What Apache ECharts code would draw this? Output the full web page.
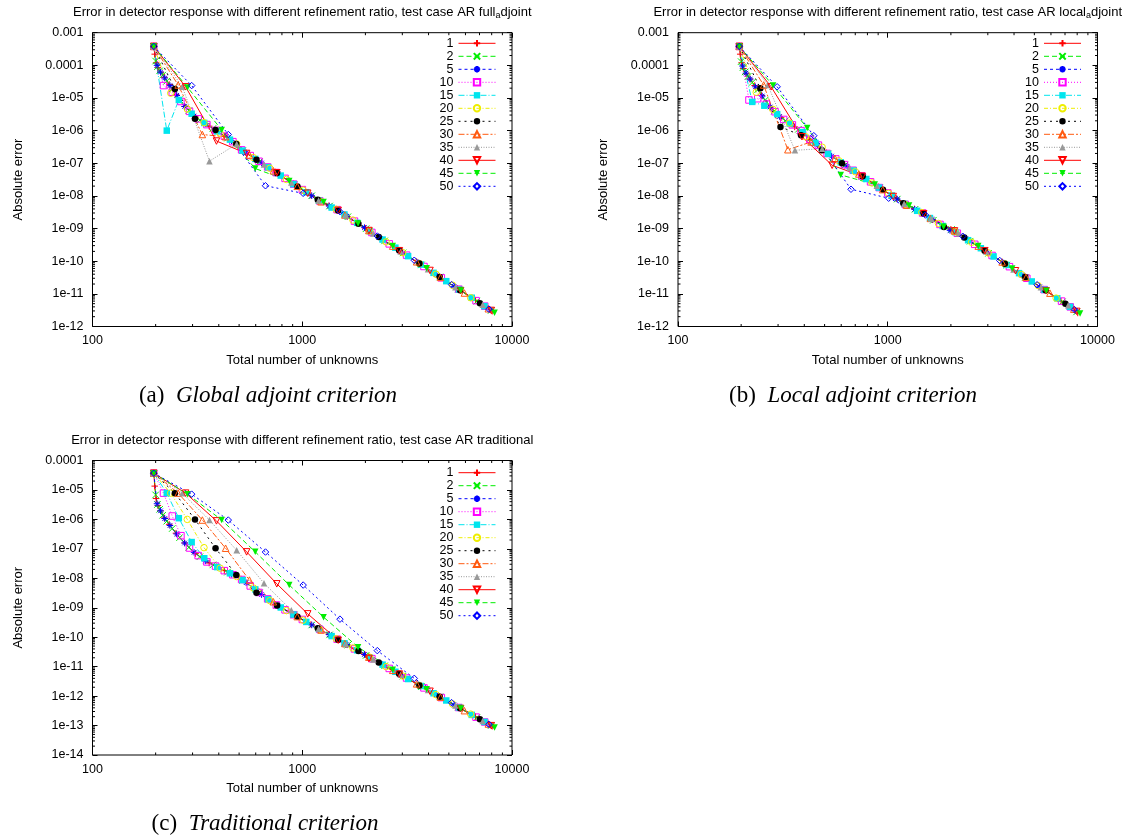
<!DOCTYPE html>
<html>
<head>
<meta charset="utf-8">
<title>Error in detector response with different refinement ratio</title>
<script src="https://cdn.jsdelivr.net/npm/echarts@6.0.0/dist/echarts.min.js"></script>
<style>
  html, body { margin: 0; padding: 0; background: #ffffff; }
  #chart { width: 1131px; height: 839px; }
</style>
</head>
<body>
<div id="chart"></div>
<script>
// Refinement ratios (percent), one curve each in every panel
const ratios = ['1', '2', '5', '10', '15', '20', '25', '30', '35', '40', '45', '50'];

// Tick labels
const xTickLabels = ['100', '1000', '10000'];
const yTickLabels = ['1e-14', '1e-13', '1e-12', '1e-11', '1e-10', '1e-09', '1e-08',
                     '1e-07', '1e-06', '1e-05', '0.0001', '0.001'];

// ---------- (a) full adjoint criterion: [total unknowns, absolute error] ----------
const fullAdj_1 = [[196,3.8e-4],[198,2.2e-4],[201,1.2e-4],[205,8.5e-5],[211,6.2e-5],[220,4.3e-5],[232,2.6e-5],[250,1.3e-5],[275,5.5e-6],[310,2.6e-6],[360,1.37e-6],[425,6.8e-7],[510,2.6e-7],[615,1.2e-7],[745,5.4e-8],[905,2.4e-8],[1100,1.05e-8],[1340,5.0e-9],[1640,2.35e-9],[2000,1.02e-9],[2450,4.35e-10],[3000,1.86e-10],[3670,8.0e-11],[4500,3.4e-11],[5500,1.46e-11],[6700,6.4e-12],[8050,2.95e-12]];
const fullAdj_2 = [[196,3.8e-4],[200,1.35e-4],[204,9.1e-5],[209,6.8e-5],[216,5.0e-5],[226,3.3e-5],[240,1.9e-5],[260,8.9e-6],[288,4.1e-6],[325,2.1e-6],[375,1.16e-6],[440,5.9e-7],[520,2.44e-7],[625,1.12e-7],[755,5.1e-8],[915,2.27e-8],[1110,1.01e-8],[1350,4.9e-9],[1650,2.3e-9],[2015,9.9e-10],[2470,4.2e-10],[3025,1.8e-10],[3700,7.7e-11],[4530,3.3e-11],[5550,1.4e-11],[6800,6.0e-12],[7950,3.1e-12]];
const fullAdj_5 = [[196,3.8e-4],[203,1.0e-4],[211,6.2e-5],[221,4.1e-5],[234,2.4e-5],[252,1.2e-5],[275,5.5e-6],[305,2.8e-6],[345,1.64e-6],[395,9.3e-7],[460,4.9e-7],[540,2.1e-7],[640,1.02e-7],[765,4.8e-8],[920,2.2e-8],[1110,1.01e-8],[1345,4.9e-9],[1630,2.4e-9],[1980,1.07e-9],[2410,4.7e-10],[2930,2.06e-10],[3570,9.0e-11],[4350,3.9e-11],[5300,1.7e-11],[6450,7.5e-12],[7850,3.3e-12]];
const fullAdj_10 = [[196,3.8e-4],[218,2.4e-5],[240,1.5e-5],[264,7.8e-6],[290,3.9e-6],[319,2.3e-6],[351,1.53e-6],[386,1.02e-6],[425,6.8e-7],[467,4.6e-7],[514,2.57e-7],[565,1.72e-7],[622,1.15e-7],[684,7.7e-8],[752,5.2e-8],[828,3.45e-8],[910,2.3e-8],[1001,1.56e-8],[1212,7.0e-9],[1466,3.8e-9],[1774,1.69e-9],[2147,7.6e-10],[2598,3.4e-10],[3144,1.53e-10],[3804,6.9e-11],[4603,3.1e-11],[5569,1.39e-11],[6739,6.2e-12],[7413,4.2e-12]];
const fullAdj_15 = [[196,3.8e-4],[226,1.0e-6],[258,8.7e-6],[297,3.3e-6],[341,1.72e-6],[393,9.5e-7],[452,5.3e-7],[519,2.45e-7],[597,1.36e-7],[687,7.6e-8],[790,4.2e-8],[908,2.3e-8],[1045,1.3e-8],[1201,7.2e-9],[1381,4.4e-9],[1589,2.7e-9],[1827,1.5e-9],[2101,8.3e-10],[2416,4.6e-10],[2779,2.6e-10],[3196,1.43e-10],[3675,7.9e-11],[4226,4.4e-11],[4860,2.45e-11],[5589,1.36e-11],[6428,7.6e-12],[7392,4.2e-12]];
const fullAdj_20 = [[196,3.8e-4],[236,1.4e-5],[283,4.6e-6],[340,1.75e-6],[406,8.3e-7],[487,3.9e-7],[584,1.5e-7],[701,7.0e-8],[841,3.2e-8],[1009,1.5e-8],[1211,7.0e-9],[1453,3.9e-9],[1744,1.82e-9],[2093,8.5e-10],[2511,3.9e-10],[3013,1.83e-10],[3616,8.5e-11],[4339,4.0e-11],[5207,1.84e-11],[6350,7.6e-12]];
const fullAdj_25 = [[196,3.8e-4],[247,1.9e-5],[308,2.3e-6],[386,1.05e-6],[485,3.9e-7],[605,1.29e-7],[759,5.0e-8],[949,1.95e-8],[1186,7.6e-9],[1482,3.6e-9],[1853,1.41e-9],[2316,5.5e-10],[2895,2.16e-10],[3619,8.5e-11],[4524,3.3e-11],[5655,1.3e-11],[7030,5.2e-12]];
const fullAdj_30 = [[196,3.8e-4],[256,2.5e-5],[334,7.6e-7],[431,6.5e-7],[560,1.79e-7],[728,5.9e-8],[946,1.97e-8],[1229,6.6e-9],[1597,2.6e-9],[2076,8.7e-10],[2699,2.9e-10],[3509,9.6e-11],[4562,3.2e-11],[5930,1.06e-11],[7709,3.5e-12]];
const fullAdj_35 = [[196,3.8e-4],[268,2.2e-5],[361,1.16e-7],[487,3.9e-7],[657,9.1e-8],[887,2.6e-8],[1197,7.3e-9],[1616,2.5e-9],[2182,7.1e-10],[2946,2.0e-10],[3977,5.7e-11],[5369,1.6e-11],[7248,4.6e-12]];
const fullAdj_40 = [[196,3.8e-4],[278,2.2e-5],[390,4.8e-7],[543,2.0e-7],[756,5.1e-8],[1062,1.21e-8],[1484,3.6e-9],[2080,8.7e-10],[2904,2.1e-10],[4065,5.2e-11],[5691,1.26e-11],[7967,3.1e-12]];
const fullAdj_45 = [[196,3.8e-4],[284,2.1e-5],[413,1.05e-6],[597,6.9e-8],[867,2.85e-8],[1264,6.5e-9],[1845,1.44e-9],[2700,2.9e-10],[3920,6.1e-11],[5700,1.26e-11],[8260,2.65e-12]];
const fullAdj_50 = [[196,3.8e-4],[297,2.4e-5],[444,7.6e-7],[668,2.05e-8],[1010,1.2e-8],[1513,3.3e-9],[2280,5.9e-10],[3420,1.07e-10],[5150,1.92e-11],[7760,3.4e-12]];

// ---------- (b) local adjoint criterion ----------
const localAdj_1 = [[196,3.8e-4],[198,2.2e-4],[201,1.2e-4],[205,8.0e-5],[211,5.5e-5],[220,3.8e-5],[232,2.4e-5],[250,1.2e-5],[275,5.2e-6],[310,2.5e-6],[360,1.3e-6],[425,5.4e-7],[510,2.1e-7],[615,9.5e-8],[745,4.3e-8],[905,1.9e-8],[1100,8.3e-9],[1340,4.0e-9],[1640,1.86e-9],[2000,9.5e-10],[2450,4.3e-10],[3000,1.8e-10],[3670,8.0e-11],[4500,3.4e-11],[5500,1.4e-11],[6700,6.0e-12],[8050,2.6e-12]];
const localAdj_2 = [[196,3.8e-4],[200,1.3e-4],[204,8.5e-5],[209,6.3e-5],[216,4.6e-5],[226,3.0e-5],[240,1.8e-5],[260,8.5e-6],[288,4.0e-6],[325,2.0e-6],[375,1.1e-6],[440,4.7e-7],[520,1.93e-7],[625,8.8e-8],[755,4.0e-8],[915,1.8e-8],[1110,8.0e-9],[1350,3.9e-9],[1650,1.8e-9],[2015,9.4e-10],[2470,4.1e-10],[3025,1.75e-10],[3700,7.6e-11],[4530,3.2e-11],[5550,1.35e-11],[6800,5.7e-12],[7950,2.8e-12]];
const localAdj_5 = [[196,3.8e-4],[203,9.5e-5],[211,5.8e-5],[221,3.8e-5],[234,2.2e-5],[252,1.15e-5],[275,5.3e-6],[305,2.7e-6],[345,1.6e-6],[395,9.0e-7],[460,3.9e-7],[540,1.66e-7],[640,8.1e-8],[765,3.8e-8],[920,1.74e-8],[1110,8.0e-9],[1345,3.9e-9],[1630,1.9e-9],[1980,8.8e-10],[2410,4.6e-10],[2930,2.0e-10],[3570,8.8e-11],[4350,3.8e-11],[5300,1.65e-11],[6450,7.2e-12],[7850,3.1e-12]];
const localAdj_10 = [[196,3.8e-4],[218,8.7e-6],[240,9.5e-6],[264,6.5e-6],[290,3.8e-6],[319,2.2e-6],[351,1.5e-6],[386,1.0e-6],[425,5.4e-7],[467,3.6e-7],[514,2.0e-7],[565,1.36e-7],[622,9.1e-8],[684,6.1e-8],[752,4.1e-8],[828,2.7e-8],[910,1.8e-8],[1001,1.23e-8],[1212,5.5e-9],[1466,3.0e-9],[1774,1.34e-9],[2147,7.2e-10],[2598,3.3e-10],[3144,1.5e-10],[3804,6.8e-11],[4603,3.0e-11],[5569,1.35e-11],[6739,6.0e-12],[7413,4.0e-12]];
const localAdj_15 = [[196,3.8e-4],[226,7.6e-6],[258,5.8e-6],[297,3.2e-6],[341,1.65e-6],[393,9.0e-7],[452,4.2e-7],[519,1.94e-7],[597,1.07e-7],[687,6.0e-8],[790,3.3e-8],[908,1.8e-8],[1045,1.03e-8],[1201,5.7e-9],[1381,3.5e-9],[1589,2.1e-9],[1827,1.2e-9],[2101,7.8e-10],[2416,4.4e-10],[2779,2.5e-10],[3196,1.4e-10],[3675,7.7e-11],[4226,4.3e-11],[4860,2.4e-11],[5589,1.33e-11],[6428,7.3e-12],[7392,4.0e-12]];
const localAdj_20 = [[196,3.8e-4],[236,1.5e-5],[283,4.5e-6],[340,1.7e-6],[406,6.5e-7],[487,3.1e-7],[584,1.2e-7],[701,5.5e-8],[841,2.5e-8],[1009,1.2e-8],[1211,5.5e-9],[1453,3.1e-9],[1744,1.44e-9],[2093,8.0e-10],[2511,3.8e-10],[3013,1.8e-10],[3616,8.3e-11],[4339,3.9e-11],[5207,1.8e-11],[6350,7.4e-12]];
const localAdj_25 = [[196,3.8e-4],[247,2.0e-5],[308,1.3e-6],[386,7.2e-7],[485,2.5e-7],[605,1.0e-7],[759,4.0e-8],[949,1.55e-8],[1186,6.0e-9],[1482,2.9e-9],[1853,1.12e-9],[2316,5.3e-10],[2895,2.1e-10],[3619,8.4e-11],[4524,3.3e-11],[5655,1.28e-11],[7030,5.0e-12]];
const localAdj_30 = [[196,3.8e-4],[256,2.5e-5],[334,2.6e-7],[431,4.5e-7],[560,1.42e-7],[728,4.7e-8],[946,1.56e-8],[1229,5.2e-9],[1597,2.05e-9],[2076,8.5e-10],[2699,2.9e-10],[3509,9.5e-11],[4562,3.2e-11],[5930,1.05e-11],[7709,3.4e-12]];
const localAdj_35 = [[196,3.8e-4],[268,2.5e-5],[361,2.5e-7],[487,2.8e-7],[657,7.2e-8],[887,2.05e-8],[1197,5.8e-9],[1616,2.0e-9],[2182,7.0e-10],[2946,2.0e-10],[3977,5.6e-11],[5369,1.58e-11],[7248,4.5e-12]];
const localAdj_40 = [[196,3.8e-4],[278,2.2e-5],[390,6.5e-7],[543,8.7e-8],[756,4.0e-8],[1062,9.6e-9],[1484,2.85e-9],[2080,8.5e-10],[2904,2.1e-10],[4065,5.1e-11],[5691,1.24e-11],[7967,2.9e-12]];
const localAdj_45 = [[196,3.8e-4],[284,2.4e-5],[413,1.2e-6],[597,4.4e-8],[867,2.25e-8],[1264,5.1e-9],[1845,1.14e-9],[2700,2.9e-10],[3920,6.0e-11],[5700,1.25e-11],[8260,2.5e-12]];
const localAdj_50 = [[196,3.8e-4],[297,2.2e-5],[444,7.0e-7],[668,1.6e-8],[1010,8.5e-9],[1513,2.6e-9],[2280,5.8e-10],[3420,1.05e-10],[5150,1.9e-11],[7760,3.3e-12]];

// ---------- (c) traditional criterion ----------
const trad_1 = [[196,3.7e-5],[198,1.35e-5],[201,5.1e-6],[205,2.95e-6],[211,1.95e-6],[220,1.12e-6],[232,6.8e-7],[250,3.4e-7],[275,1.58e-7],[310,6.9e-8],[360,3.3e-8],[425,1.83e-8],[510,9.5e-9],[615,3.5e-9],[745,1.29e-9],[905,5.9e-10],[1100,2.7e-10],[1340,1.24e-10],[1640,5.5e-11],[2000,2.5e-11],[2450,1.1e-11],[3000,4.9e-12],[3670,2.2e-12],[4500,9.7e-13],[5500,4.3e-13],[6700,2.0e-13],[8050,9.5e-14]];
const trad_2 = [[196,3.7e-5],[200,6.8e-6],[204,3.2e-6],[209,2.2e-6],[216,1.38e-6],[226,8.7e-7],[240,4.9e-7],[260,2.4e-7],[288,1.12e-7],[325,5.4e-8],[375,2.85e-8],[440,1.62e-8],[520,8.5e-9],[625,3.2e-9],[755,1.23e-9],[915,5.7e-10],[1110,2.6e-10],[1350,1.2e-10],[1650,5.4e-11],[2015,2.4e-11],[2470,1.07e-11],[3025,4.75e-12],[3700,2.1e-12],[4530,9.5e-13],[5550,4.2e-13],[6800,1.86e-13],[7950,1.0e-13]];
const trad_5 = [[196,3.7e-5],[203,3.4e-6],[211,1.95e-6],[221,1.07e-6],[234,6.2e-7],[252,3.2e-7],[275,1.58e-7],[305,7.6e-8],[345,3.9e-8],[395,2.4e-8],[460,1.38e-8],[540,7.1e-9],[640,2.8e-9],[765,1.15e-9],[920,5.6e-10],[1110,2.6e-10],[1345,1.22e-10],[1630,5.6e-11],[1980,2.6e-11],[2410,1.18e-11],[2930,5.4e-12],[3570,2.45e-12],[4350,1.11e-12],[5300,5.0e-13],[6450,2.3e-13],[7850,1.05e-13]];
const trad_10 = [[196,3.7e-5],[218,7.8e-6],[240,1.3e-6],[264,2.8e-7],[290,1.07e-7],[319,5.9e-8],[351,3.6e-8],[386,2.6e-8],[425,1.82e-8],[467,1.32e-8],[514,9.1e-9],[565,5.5e-9],[622,3.3e-9],[684,2.0e-9],[752,1.24e-9],[828,8.5e-10],[910,5.8e-10],[1001,4.0e-10],[1212,1.85e-10],[1466,8.6e-11],[1774,4.0e-11],[2147,1.87e-11],[2598,8.7e-12],[3144,4.1e-12],[3804,1.9e-12],[4603,8.9e-13],[5569,4.1e-13],[6739,1.93e-13],[7413,1.32e-13]];
const trad_15 = [[196,3.7e-5],[226,7.8e-6],[258,1.1e-6],[297,1.7e-7],[341,4.8e-8],[393,2.4e-8],[452,1.48e-8],[519,8.7e-9],[597,4.2e-9],[687,1.95e-9],[790,1.02e-9],[908,5.9e-10],[1045,3.3e-10],[1201,1.9e-10],[1381,1.09e-10],[1589,6.2e-11],[1827,3.6e-11],[2101,2.0e-11],[2416,1.17e-11],[2779,6.7e-12],[3196,3.8e-12],[3675,2.2e-12],[4226,1.25e-12],[4860,7.1e-13],[5589,4.1e-13],[6428,2.3e-13],[7392,1.33e-13]];
const trad_20 = [[196,3.7e-5],[236,7.8e-6],[283,1.0e-6],[340,1.1e-7],[406,2.2e-8],[487,1.15e-8],[584,4.7e-9],[701,1.74e-9],[841,8.0e-10],[1009,3.8e-10],[1211,1.85e-10],[1453,8.9e-11],[1744,4.3e-11],[2093,2.1e-11],[2511,1.0e-11],[3013,4.8e-12],[3616,2.3e-12],[4339,1.12e-12],[5207,5.4e-13],[6350,2.45e-13]];
const trad_25 = [[196,3.7e-5],[247,7.8e-6],[308,1.0e-6],[386,1.05e-7],[485,1.3e-8],[605,3.2e-9],[759,1.2e-9],[949,4.9e-10],[1186,2.0e-10],[1482,8.2e-11],[1853,3.4e-11],[2316,1.38e-11],[2895,5.7e-12],[3619,2.3e-12],[4524,9.5e-13],[5655,3.9e-13],[7030,1.63e-13]];
const trad_30 = [[196,3.7e-5],[256,7.8e-6],[334,9.5e-7],[431,1.05e-7],[560,8.7e-9],[728,1.6e-9],[946,5.0e-10],[1229,1.75e-10],[1597,6.1e-11],[2076,2.1e-11],[2699,7.5e-12],[3509,2.6e-12],[4562,9.2e-13],[5930,3.2e-13],[7709,1.13e-13]];
const trad_35 = [[196,3.7e-5],[268,7.8e-6],[361,9.5e-7],[487,8.9e-8],[657,6.8e-9],[887,8.3e-10],[1197,1.94e-10],[1616,5.8e-11],[2182,1.75e-11],[2946,5.3e-12],[3977,1.6e-12],[5369,4.8e-13],[7248,1.44e-13]];
const trad_40 = [[196,3.7e-5],[278,7.8e-6],[390,8.9e-7],[543,7.9e-8],[756,6.5e-9],[1062,6.2e-10],[1484,7.9e-11],[2080,1.9e-11],[2904,5.6e-12],[4065,1.46e-12],[5691,3.8e-13],[7967,9.9e-14]];
const trad_45 = [[196,3.7e-5],[284,7.2e-6],[413,9.5e-7],[597,7.9e-8],[867,5.9e-9],[1264,4.8e-10],[1845,4.6e-11],[2700,7.9e-12],[3920,1.7e-12],[5700,3.8e-13],[8260,8.6e-14]];
const trad_50 = [[196,3.7e-5],[297,7.2e-6],[444,9.5e-7],[668,7.8e-8],[1010,5.9e-9],[1513,4.1e-10],[2280,3.5e-11],[3420,4.0e-12],[5150,6.0e-13],[7760,1.1e-13]];

const fullAdjSeries  = [fullAdj_1, fullAdj_2, fullAdj_5, fullAdj_10, fullAdj_15, fullAdj_20, fullAdj_25, fullAdj_30, fullAdj_35, fullAdj_40, fullAdj_45, fullAdj_50];
const localAdjSeries = [localAdj_1, localAdj_2, localAdj_5, localAdj_10, localAdj_15, localAdj_20, localAdj_25, localAdj_30, localAdj_35, localAdj_40, localAdj_45, localAdj_50];
const tradSeries     = [trad_1, trad_2, trad_5, trad_10, trad_15, trad_20, trad_25, trad_30, trad_35, trad_40, trad_45, trad_50];

// ---------- styling ----------
const SANS  = "'Liberation Sans', Arial, Helvetica, sans-serif";
const SERIF = "'Liberation Serif', 'Times New Roman', serif";

const P_PLUS  = 'path://M5,0V10M0,5H10';
const P_CROSS = 'path://M0,0L10,10M10,0L0,10';
const P_STAR  = 'path://M5,0V10M0,5H10M1.5,1.5L8.5,8.5M8.5,1.5L1.5,8.5';
const P_BOX   = 'path://M0,0H10V10H0Z';
const P_TRI   = 'path://M5,0L10,9L0,9Z';
const P_ITRI  = 'path://M0,0H10L5,9Z';
const P_DIAM  = 'path://M5,0L10,5L5,10L0,5Z';

// gnuplot-like line types: colour, dash pattern, point type, hollow or filled point
const looks = [
  { c: '#ff0000', dash: 'solid',          sym: P_PLUS,   open: true  },
  { c: '#00ee00', dash: [5, 3],           sym: P_CROSS,  open: true  },
  { c: '#0000ff', dash: [3, 3],           sym: P_STAR,   open: true  },
  { c: '#ff00ff', dash: [1, 2],           sym: P_BOX,    open: true  },
  { c: '#00e5ee', dash: [6, 2, 1, 2],     sym: 'rect',   open: false },
  { c: '#eeee00', dash: [4, 2, 1, 2],     sym: 'circle', open: true  },
  { c: '#000000', dash: [2, 4],           sym: 'circle', open: false },
  { c: '#ff5a10', dash: [6, 2, 2, 2],     sym: P_TRI,    open: true  },
  { c: '#999999', dash: [1, 1.5],         sym: 'triangle', open: false },
  { c: '#ff0000', dash: 'solid',          sym: P_ITRI,   open: true  },
  { c: '#00ee00', dash: [5, 3],           sym: P_ITRI,   open: false },
  { c: '#0000ff', dash: [2, 3],           sym: P_DIAM,   open: true  }
];

const panels = [
  { rect: { left: 92.5, top: 32.7, width: 419.5, height: 293.8 }, yMin: 1e-12, yMax: 1e-3, sets: fullAdjSeries,
    title: 'Error in detector response with different refinement ratio, test case AR full{s|a}djoint',
    caption: '{n|(a)}  {i|Global adjoint criterion}', capX: 268, capY: 396, legendRight: 635, legendTop: 36.8 },
  { rect: { left: 678, top: 32.7, width: 419.5, height: 293.8 }, yMin: 1e-12, yMax: 1e-3, sets: localAdjSeries,
    title: 'Error in detector response with different refinement ratio, test case AR local{s|a}djoint',
    caption: '{n|(b)}  {i|Local adjoint criterion}', capX: 853, capY: 396, legendRight: 49.5, legendTop: 36.8 },
  { rect: { left: 92.5, top: 460.5, width: 419.5, height: 294.5 }, yMin: 1e-14, yMax: 1e-4, sets: tradSeries,
    title: 'Error in detector response with different refinement ratio, test case AR traditional',
    caption: '{n|(c)}  {i|Traditional criterion}', capX: 265, capY: 824, legendRight: 635, legendTop: 466.2 }
];

const xMinorTicks = [200, 300, 400, 500, 600, 700, 800, 900, 2000, 3000, 4000, 5000, 6000, 7000, 8000, 9000];
function yMinorTicks(lo, hi) {
  const out = [];
  for (let d = lo; d < hi * 0.999; d *= 10) {
    for (let k = 2; k <= 9; k++) out.push(d * k);
  }
  return out;
}

function xLabel(v) {
  const e = Math.round(Math.log10(v));
  return xTickLabels[e - 2] || '';
}
function yLabel(v) {
  const e = Math.round(Math.log10(v));
  return yTickLabels[e + 14] || '';
}

const tickStyle = { color: '#000', width: 1 };
const labelStyle = { fontFamily: SANS, fontSize: 12.5, color: '#000' };

const grid = [], xAxis = [], yAxis = [], series = [], legend = [], graphic = [];

panels.forEach((p, i) => {
  grid.push(Object.assign({ show: true, borderColor: '#000', borderWidth: 1,
                            backgroundColor: 'transparent', containLabel: false, outerBoundsMode: 'none' }, p.rect));

  // bottom / top
  xAxis.push({
    type: 'log', logBase: 10, gridIndex: i, position: 'bottom', min: 100, max: 10000,
    axisLine: { show: false }, splitLine: { show: false },
    axisTick: { show: true, inside: true, length: 5, lineStyle: tickStyle },
    axisLabel: Object.assign({ margin: 8, formatter: xLabel, showMinLabel: true, showMaxLabel: true }, labelStyle),
    name: 'Total number of unknowns', nameLocation: 'middle', nameGap: 27,
    nameTextStyle: { fontFamily: SANS, fontSize: 13, color: '#000' }
  });
  xAxis.push({
    type: 'log', logBase: 10, gridIndex: i, position: 'top', min: 100, max: 10000,
    axisLine: { show: false }, splitLine: { show: false },
    axisTick: { show: true, inside: true, length: 5, lineStyle: tickStyle },
    axisLabel: { show: false }
  });
  // left / right
  yAxis.push({
    type: 'log', logBase: 10, gridIndex: i, position: 'left', min: p.yMin, max: p.yMax, interval: 1,
    axisLine: { show: false }, splitLine: { show: false },
    axisTick: { show: true, inside: true, length: 5, lineStyle: tickStyle },
    axisLabel: Object.assign({ margin: 9, formatter: yLabel, showMinLabel: true, showMaxLabel: true }, labelStyle),
    name: 'Absolute error', nameLocation: 'middle', nameGap: 68, nameRotate: 90,
    nameTextStyle: { fontFamily: SANS, fontSize: 13, color: '#000' }
  });
  yAxis.push({
    type: 'log', logBase: 10, gridIndex: i, position: 'right', min: p.yMin, max: p.yMax, interval: 1,
    axisLine: { show: false }, splitLine: { show: false },
    axisTick: { show: true, inside: true, length: 5, lineStyle: tickStyle },
    axisLabel: { show: false }
  });

  // the twelve refinement-ratio curves
  p.sets.forEach((data, j) => {
    const lk = looks[j];
    series.push({
      type: 'line', name: ratios[j], xAxisIndex: 2 * i, yAxisIndex: 2 * i,
      data: data, showSymbol: true, symbol: lk.sym, symbolSize: 6.5,
      lineStyle: { color: lk.c, width: 1, type: lk.dash },
      itemStyle: lk.open ? { color: 'none', borderColor: lk.c, borderWidth: 1 }
                         : { color: lk.c, borderColor: lk.c, borderWidth: 0 },
      emphasis: { disabled: true }, animation: false, z: 3
    });
  });

  // minor ticks on all four sides, placed through the axes
  const yMin = p.yMin, yMax = p.yMax;
  series.push({
    type: 'custom', name: 'xminor' + i, xAxisIndex: 2 * i, yAxisIndex: 2 * i, silent: true, clip: false,
    animation: false, z: 4,
    data: xMinorTicks.map(v => [v, yMin]),
    renderItem: (params, api) => {
      const lo = api.coord([100, yMin]);
      const hi = api.coord([10000, yMax]);
      const x = api.coord([api.value(0), yMin])[0];
      return { type: 'group', children: [
        { type: 'line', shape: { x1: x, y1: lo[1], x2: x, y2: lo[1] - 2.5 }, style: { stroke: '#000', lineWidth: 1 } },
        { type: 'line', shape: { x1: x, y1: hi[1], x2: x, y2: hi[1] + 2.5 }, style: { stroke: '#000', lineWidth: 1 } }
      ] };
    }
  });
  series.push({
    type: 'custom', name: 'yminor' + i, xAxisIndex: 2 * i, yAxisIndex: 2 * i, silent: true, clip: false,
    animation: false, z: 4,
    data: yMinorTicks(yMin, yMax).map(v => [100, v]),
    renderItem: (params, api) => {
      const lo = api.coord([100, yMin]);
      const hi = api.coord([10000, yMax]);
      const y = api.coord([100, api.value(1)])[1];
      return { type: 'group', children: [
        { type: 'line', shape: { x1: lo[0], y1: y, x2: lo[0] + 2.5, y2: y }, style: { stroke: '#000', lineWidth: 1 } },
        { type: 'line', shape: { x1: hi[0], y1: y, x2: hi[0] - 2.5, y2: y }, style: { stroke: '#000', lineWidth: 1 } }
      ] };
    }
  });

  legend.push({
    data: ratios, orient: 'vertical', align: 'right', right: p.legendRight, top: p.legendTop,
    padding: 0, itemGap: 0, itemWidth: 37, itemHeight: 8, selectedMode: false,
    textStyle: { fontFamily: SANS, fontSize: 12.5, color: '#000', lineHeight: 13 },
    lineStyle: { width: 1 }
  });

  const cx = p.rect.left + p.rect.width / 2;
  graphic.push({
    type: 'text', silent: true, x: cx, y: p.rect.top - 20.5,
    style: {
      text: p.title, fontFamily: SANS, fontSize: 13, fill: '#000', lineHeight: 16,
      align: 'center', verticalAlign: 'middle',
      rich: { s: { fontFamily: SANS, fontSize: 9, lineHeight: 8, verticalAlign: 'bottom', fill: '#000' } }
    }
  });
  graphic.push({
    type: 'text', silent: true, x: p.capX, y: p.capY,
    style: {
      text: p.caption, fontFamily: SERIF, fontSize: 23, fill: '#000', align: 'center', verticalAlign: 'middle',
      rich: {
        n: { fontFamily: SERIF, fontSize: 23, fill: '#000' },
        i: { fontFamily: SERIF, fontSize: 23, fontStyle: 'italic', fill: '#000' }
      }
    }
  });
});

const chart = echarts.init(document.getElementById('chart'), null, { renderer: 'canvas' });
chart.setOption({
  backgroundColor: '#ffffff',
  animation: false,
  grid, xAxis, yAxis, series, legend, graphic
});
</script>
</body>
</html>
